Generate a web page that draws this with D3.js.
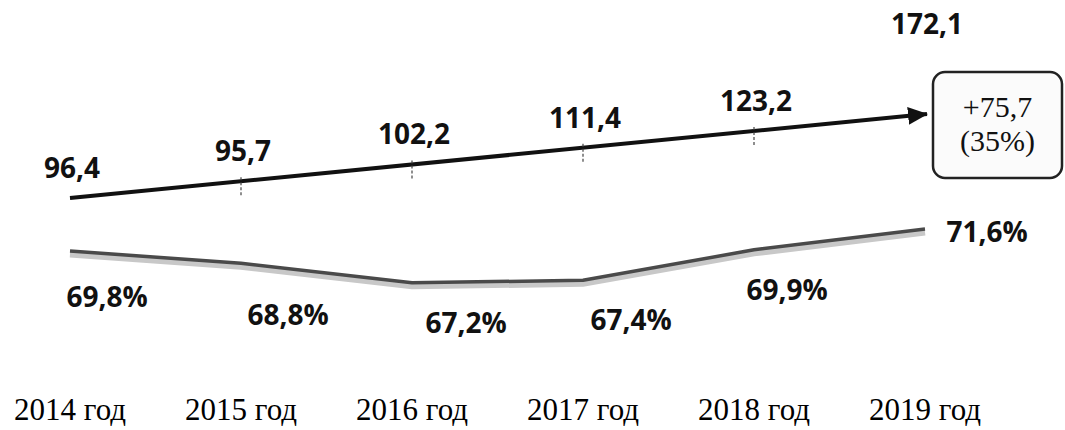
<!DOCTYPE html>
<html>
<head>
<meta charset="utf-8">
<script src="https://cdn.jsdelivr.net/npm/d3@7"></script>
<style>
    body { margin: 0; background: #fff; }
    svg { display: block; }
    .val, .pct { font-family: "Open Sans", "DejaVu Sans", sans-serif; font-weight: 700; font-size: 28px; fill: #111; }
    .year { font-family: "Liberation Serif", "Times New Roman", serif; font-size: 31px; fill: #000; }
    .box-txt { font-family: "Liberation Serif", "Times New Roman", serif; font-size: 30px; fill: #111; }
</style>
</head>
<body>
<svg id="chart" width="1065" height="430"></svg>
<script>
(function () {

    /* data */
    var YEARS  = ["2014 год", "2015 год", "2016 год", "2017 год", "2018 год", "2019 год"];
    var VOLUME = [96.4, 95.7, 102.2, 111.4, 123.2, 172.1];
    var SHARE  = [69.8, 68.8, 67.2, 67.4, 69.9, 71.6];
    var GROWTH_PCT = 35;

    /* layout */
    var W = 1065, H = 430;
    var X0 = 70, X1 = 925;
    var AXIS_Y = 420;
    var ARROW_Y = [198, 114];       // arrow start / tip height
    var VAL_LIFT = 20;              // value labels above the arrow
    /* manual nudges for the share labels (dx from point, dy baseline) */
    var PCT_DX = [37, 47, 54, 48, 33, 62];
    var PCT_DY = [56, 62, 50, 50, 50, 13];

    var ru = d3.formatLocale({ decimal: ",", thousands: " ", grouping: [3], currency: ["", ""] });
    var f1 = ru.format(".1f");

    var svg = d3.select("#chart").attr("width", W).attr("height", H);

    var x = d3.scalePoint()
        .domain(YEARS)
        .range([X0, X1]);

    var yVol = d3.scaleLinear()
        .domain([VOLUME[0], VOLUME[VOLUME.length - 1]])
        .range(ARROW_Y);

    var yShare = d3.scaleLinear()
        .domain([60, 75])
        .range([370.6, 187.6]);

    /* arrow marker */
    svg.append("defs").append("marker")
        .attr("id", "arrowhead")
        .attr("markerUnits", "userSpaceOnUse")
        .attr("viewBox", "0 0 20 18")
        .attr("markerWidth", 20)
        .attr("markerHeight", 18)
        .attr("refX", 19)
        .attr("refY", 9)
        .attr("orient", "auto")
        .append("path")
        .attr("d", "M0,0 L20,9 L0,18 Z")
        .attr("fill", "#111");

    /* trend arrow from first to last year */
    var ax0 = x(YEARS[0]), ax1 = x(YEARS[YEARS.length - 1]) + 2;
    var ay0 = yVol(VOLUME[0]), ay1 = yVol(VOLUME[VOLUME.length - 1]);
    function arrowY(px) { return ay0 + (ay1 - ay0) * (px - ax0) / (ax1 - ax0); }

    svg.append("line")
        .attr("x1", ax0).attr("y1", ay0)
        .attr("x2", ax1).attr("y2", ay1)
        .attr("stroke", "#111")
        .attr("stroke-width", 4)
        .attr("marker-end", "url(#arrowhead)");

    /* small ticks on the arrow */
    svg.selectAll(".tick-mark")
        .data(YEARS.slice(1, -1))
        .enter()
        .append("line")
        .attr("class", "tick-mark")
        .attr("x1", function (d) { return x(d); })
        .attr("x2", function (d) { return x(d); })
        .attr("y1", function (d) { return arrowY(x(d)) - 4; })
        .attr("y2", function (d) { return arrowY(x(d)) + 15; })
        .attr("stroke", "#444")
        .attr("stroke-width", 1.2)
        .attr("stroke-dasharray", "3,2");

    /* value labels */
    svg.selectAll(".val")
        .data(VOLUME.slice(0, -1))
        .enter()
        .append("text")
        .attr("class", "val")
        .attr("text-anchor", "middle")
        .attr("x", function (d, i) { return x(YEARS[i]) + 2; })
        .attr("y", function (d, i) { return arrowY(x(YEARS[i])) - VAL_LIFT; })
        .text(function (d) { return f1(d); });

    /* growth box */
    var boxX = ax1 + 6, boxY = ay1 - 42, boxW = 129, boxH = 106;
    svg.append("rect")
        .attr("x", boxX).attr("y", boxY)
        .attr("width", boxW).attr("height", boxH)
        .attr("rx", 12)
        .attr("fill", "#fbfbfb")
        .attr("stroke", "#222")
        .attr("stroke-width", 2.5);

    var growth = VOLUME[VOLUME.length - 1] - VOLUME[0];
    svg.append("text")
        .attr("class", "box-txt")
        .attr("text-anchor", "middle")
        .attr("x", boxX + boxW / 2)
        .attr("y", boxY + 45)
        .text("+" + f1(growth));
    svg.append("text")
        .attr("class", "box-txt")
        .attr("text-anchor", "middle")
        .attr("x", boxX + boxW / 2)
        .attr("y", boxY + 79)
        .text("(" + GROWTH_PCT + "%)");

    /* last value sits above the box */
    svg.append("text")
        .attr("class", "val")
        .attr("text-anchor", "middle")
        .attr("x", ax1)
        .attr("y", boxY - 38)
        .text(f1(VOLUME[VOLUME.length - 1]));

    /* share line */
    var line = d3.line()
        .x(function (d, i) { return x(YEARS[i]); })
        .y(function (d) { return yShare(d); });

    svg.append("path")
        .datum(SHARE)
        .attr("d", line)
        .attr("transform", "translate(0,3)")
        .attr("fill", "none")
        .attr("stroke", "#c8c8c8")
        .attr("stroke-width", 7);

    svg.append("path")
        .datum(SHARE)
        .attr("d", line)
        .attr("fill", "none")
        .attr("stroke", "#4a4a4a")
        .attr("stroke-width", 3.5)
        .attr("stroke-linejoin", "round");

    svg.selectAll(".pct")
        .data(SHARE)
        .enter()
        .append("text")
        .attr("class", "pct")
        .attr("text-anchor", "middle")
        .attr("x", function (d, i) { return x(YEARS[i]) + PCT_DX[i]; })
        .attr("y", function (d, i) { return yShare(d) + PCT_DY[i]; })
        .text(function (d) { return f1(d) + "%"; });

    /* year labels */
    svg.selectAll(".year")
        .data(YEARS)
        .enter()
        .append("text")
        .attr("class", "year")
        .attr("text-anchor", "middle")
        .attr("x", function (d) { return x(d); })
        .attr("y", AXIS_Y)
        .text(function (d) { return d; });

}());
</script>
</body>
</html>
